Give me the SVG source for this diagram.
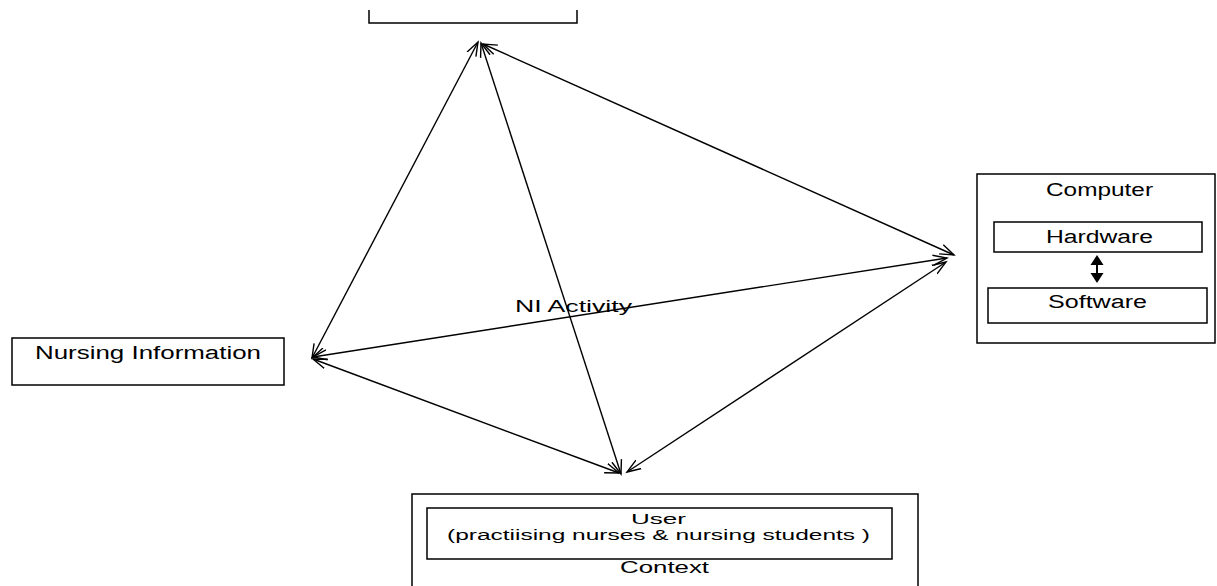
<svg xmlns="http://www.w3.org/2000/svg" width="1217" height="586" viewBox="0 0 1217 586">
<defs>
<style>
.box{fill:none;stroke:#000;stroke-width:1.5}
.lbl{font-family:"Liberation Sans",Arial,sans-serif;font-size:18px;fill:#000}
.sm{font-size:16px}
.xs{font-size:14px}
.con{fill:none;stroke:#000;stroke-width:1.4;marker-start:url(#open);marker-end:url(#open)}
</style>
<marker id="open" markerUnits="userSpaceOnUse" markerWidth="20" markerHeight="14" refX="14" refY="5" orient="auto-start-reverse" viewBox="0 0 20 10">
<path d="M0,0 L14,5 L0,10" fill="none" stroke="#000" stroke-width="1.4"/>
</marker>
</defs>
<rect width="1217" height="586" fill="#fff"/>
<g id="top-node">
<path class="box" d="M369,10 V23 H577 V10"/>
</g>
<g id="nursing-information">
<rect class="box" x="12" y="338" width="272" height="47"/>
<text class="lbl" x="35" y="359" textLength="226" lengthAdjust="spacingAndGlyphs">Nursing  Information</text>
</g>
<g id="computer">
<rect class="box" x="977" y="174" width="238" height="169"/>
<text class="lbl" x="1046" y="196" textLength="107" lengthAdjust="spacingAndGlyphs">Computer</text>
<g id="hardware">
<rect class="box" x="994" y="222" width="208" height="30"/>
<text class="lbl" x="1046" y="243" textLength="107" lengthAdjust="spacingAndGlyphs">Hardware</text>
</g>
<g id="software">
<rect class="box" x="988" y="288" width="219" height="35"/>
<text class="lbl" x="1048" y="308" textLength="99" lengthAdjust="spacingAndGlyphs">Software</text>
</g>
<g id="hw-sw-arrow">
<line x1="1097" y1="263" x2="1097" y2="275" stroke="#000" stroke-width="2"/>
<polygon points="1097,255 1103.5,265 1090.5,265" fill="#000"/>
<polygon points="1097,283 1103.5,273 1090.5,273" fill="#000"/>
</g>
</g>
<g id="context">
<rect class="box" x="412" y="494" width="506" height="110"/>
<text class="lbl sm" x="620" y="573" textLength="89" lengthAdjust="spacingAndGlyphs">Context</text>
<g id="user">
<rect class="box" x="427" y="508" width="465" height="51"/>
<text class="lbl xs" x="631" y="524" textLength="55" lengthAdjust="spacingAndGlyphs">User</text>
<text class="lbl xs" x="447" y="540" textLength="423" lengthAdjust="spacingAndGlyphs">(practiising nurses &amp; nursing students )</text>
</g>
</g>
<g id="connectors">
<line class="con" x1="478" y1="42" x2="312" y2="358"/>
<line class="con" x1="481" y1="43" x2="621" y2="474"/>
<line class="con" x1="483" y1="44" x2="954" y2="255"/>
<line class="con" x1="313" y1="357" x2="947" y2="258"/>
<line class="con" x1="313" y1="359" x2="619" y2="473"/>
<line class="con" x1="627" y1="472" x2="946" y2="262"/>
</g>
<text id="ni-activity" class="lbl sm" x="515" y="312" textLength="117" lengthAdjust="spacingAndGlyphs">NI Activity</text>
</svg>
